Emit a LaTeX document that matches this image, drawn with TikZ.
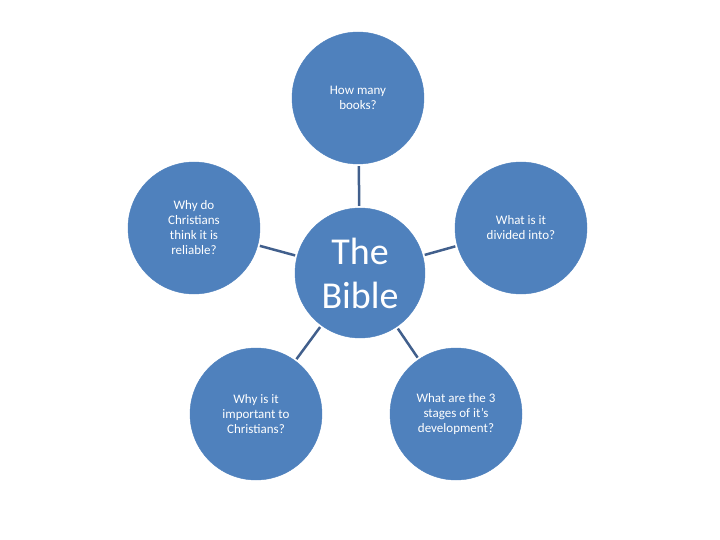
\documentclass[tikz,border=0pt]{standalone}
\usepackage{fontspec}
\setmainfont{Carlito}
\definecolor{topicblue}{RGB}{79,129,189}
\definecolor{linkblue}{RGB}{65,95,140}
\tikzset{
	topic/.style={circle, fill=topicblue, draw=topicblue, minimum size=132pt, inner sep=0pt, align=center, font=\fontsize{13}{15}\selectfont, text=white},
	hub/.style={circle, fill=topicblue, draw=topicblue, minimum size=130pt, inner sep=0pt, align=center, font=\fontsize{38}{44}\selectfont, text=white},
	link/.style={draw=linkblue, line width=2.5pt, shorten >=2pt, shorten <=2pt}
}
\begin{document}
\begin{tikzpicture}[x=1pt,y=-1pt]
\useasboundingbox (0,0) rectangle (720,540);
\node[hub] (bible) at (360,273) {The\\Bible};

\node[topic] (books) at (358,98) {How many\\books?};
\node[topic] (reliable) at (194,228) {Why do\\Christians\\think it is\\reliable?};
\node[topic] (divided) at (521,228) {What is it\\divided into?};
\node[topic] (important) at (256,414) {Why is it\\important to\\Christians?};
\node[topic] (stages) at (456,414) {What are the 3\\stages of it’s\\development?};

\foreach \t in {books,reliable,divided,important,stages}
	\draw[link] (bible) -- (\t);
\end{tikzpicture}
\end{document}
